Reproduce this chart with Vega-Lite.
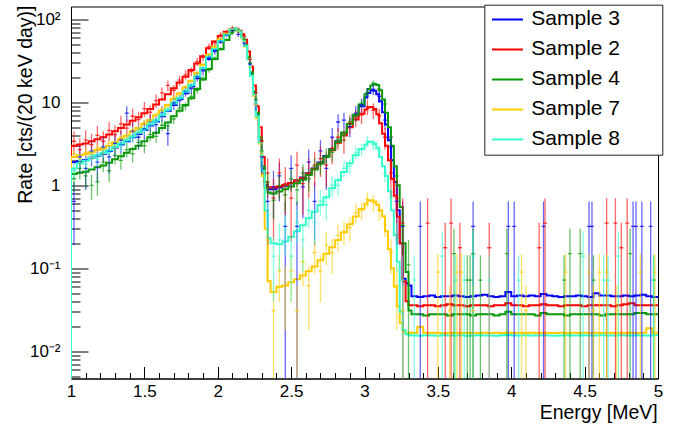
{
"$schema":"https://vega.github.io/schema/vega-lite/v6.json",
"width":587,"height":372,
"autosize":{"type":"none"},
"padding":{"left":71,"top":6.5,"right":25,"bottom":46.5},
"background":"white",
"config":{
 "font":"Liberation Sans",
 "view":{"stroke":"black","strokeWidth":1},
 "axis":{"grid":false,"domainColor":"black","tickColor":"black","labelColor":"black","titleColor":"black","labelFont":"Liberation Sans","titleFont":"Liberation Sans","titleFontWeight":"normal","labelFontSize":17,"titleFontSize":19.5,"tickWidth":1,"domainWidth":1}
},
"datasets":{
"model":[
{"e":1.00,"3":0.001,"2":0.001,"4":0.001,"7":0.001,"8":0.001},
{"e":1.00,"3":1.9,"2":3.0,"4":1.37,"7":2.2,"8":1.6},
{"e":1.04,"3":1.95,"2":3.1,"4":1.42,"7":2.3,"8":1.85},
{"e":1.08,"3":2.02,"2":3.2,"4":1.46,"7":2.37,"8":1.98},
{"e":1.12,"3":2.15,"2":3.4,"4":1.55,"7":2.5,"8":2.15},
{"e":1.16,"3":2.27,"2":3.6,"4":1.65,"7":2.67,"8":2.3},
{"e":1.20,"3":2.4,"2":3.8,"4":1.74,"7":2.8,"8":2.45},
{"e":1.24,"3":2.6,"2":4.1,"4":1.87,"7":3.0,"8":2.65},
{"e":1.28,"3":2.85,"2":4.5,"4":2.06,"7":3.3,"8":2.9},
{"e":1.32,"3":3.1,"2":4.9,"4":2.24,"7":3.6,"8":3.2},
{"e":1.36,"3":3.4,"2":5.4,"4":2.47,"7":4.0,"8":3.5},
{"e":1.40,"3":3.8,"2":6.0,"4":2.74,"7":4.45,"8":3.9},
{"e":1.44,"3":4.15,"2":6.6,"4":3.0,"7":4.9,"8":4.3},
{"e":1.48,"3":4.65,"2":7.4,"4":3.4,"7":5.5,"8":4.8},
{"e":1.52,"3":5.25,"2":8.3,"4":3.8,"7":6.15,"8":5.4},
{"e":1.56,"3":5.9,"2":9.4,"4":4.3,"7":7.0,"8":6.1},
{"e":1.60,"3":6.8,"2":10.8,"4":4.9,"7":8.0,"8":7.0},
{"e":1.64,"3":7.9,"2":12.5,"4":5.7,"7":9.3,"8":8.2},
{"e":1.68,"3":9.3,"2":14.8,"4":6.8,"7":11,"8":9.7},
{"e":1.72,"3":11,"2":17.4,"4":7.95,"7":12.9,"8":11.4},
{"e":1.76,"3":12.9,"2":20.4,"4":9.3,"7":15.1,"8":13.4},
{"e":1.80,"3":15.5,"2":24.5,"4":11.2,"7":18.2,"8":16.2},
{"e":1.84,"3":19.5,"2":29.5,"4":14.5,"7":22.4,"8":20.5},
{"e":1.88,"3":24.9,"2":36,"4":18.9,"7":28.6,"8":26},
{"e":1.92,"3":33.3,"2":45,"4":25.3,"7":37.4,"8":35},
{"e":1.96,"3":42.9,"2":54,"4":33.3,"7":47,"8":44.5},
{"e":2.00,"3":53.6,"2":63,"4":43.6,"7":57.5,"8":55},
{"e":2.04,"3":64.7,"2":71,"4":56.4,"7":68,"8":66},
{"e":2.08,"3":74,"2":76,"4":67.7,"7":76,"8":75},
{"e":2.10,"3":78,"2":78,"4":74,"7":78,"8":78},
{"e":2.12,"3":76,"2":77,"4":76,"7":76,"8":76},
{"e":2.14,"3":71,"2":73,"4":72,"7":70,"8":71},
{"e":2.16,"3":61,"2":66,"4":62,"7":60,"8":61},
{"e":2.18,"3":48,"2":57,"4":49,"7":47,"8":48},
{"e":2.20,"3":34,"2":41,"4":35,"7":33,"8":33},
{"e":2.22,"3":22,"2":27,"4":23,"7":21,"8":21},
{"e":2.24,"3":13,"2":16,"4":13.5,"7":12,"8":12.5},
{"e":2.26,"3":7,"2":9,"4":7.5,"7":6.5,"8":6.8},
{"e":2.28,"3":3.5,"2":5,"4":3.8,"7":3.2,"8":3.3},
{"e":2.30,"3":1.6,"2":2.2,"4":1.7,"7":1.3,"8":1.5},
{"e":2.32,"3":1.0,"2":1.1,"4":0.95,"7":0.3,"8":0.5},
{"e":2.34,"3":0.9,"2":0.95,"4":0.82,"7":0.07,"8":0.23},
{"e":2.36,"3":0.9,"2":0.94,"4":0.8,"7":0.052,"8":0.2},
{"e":2.40,"3":0.94,"2":0.97,"4":0.84,"7":0.06,"8":0.195},
{"e":2.44,"3":0.99,"2":1.01,"4":0.9,"7":0.062,"8":0.21},
{"e":2.48,"3":1.06,"2":1.07,"4":0.97,"7":0.068,"8":0.24},
{"e":2.52,"3":1.14,"2":1.14,"4":1.06,"7":0.074,"8":0.28},
{"e":2.56,"3":1.24,"2":1.23,"4":1.17,"7":0.082,"8":0.33},
{"e":2.60,"3":1.4,"2":1.38,"4":1.33,"7":0.092,"8":0.4},
{"e":2.64,"3":1.6,"2":1.58,"4":1.55,"7":0.105,"8":0.48},
{"e":2.68,"3":1.88,"2":1.85,"4":1.83,"7":0.125,"8":0.58},
{"e":2.72,"3":2.25,"2":2.2,"4":2.2,"7":0.15,"8":0.72},
{"e":2.76,"3":2.72,"2":2.65,"4":2.68,"7":0.18,"8":0.92},
{"e":2.80,"3":3.4,"2":3.25,"4":3.35,"7":0.22,"8":1.15},
{"e":2.84,"3":4.3,"2":4.0,"4":4.3,"7":0.27,"8":1.45},
{"e":2.88,"3":5.5,"2":5.0,"4":5.5,"7":0.34,"8":1.85},
{"e":2.92,"3":7.0,"2":6.2,"4":7.1,"7":0.42,"8":2.3},
{"e":2.96,"3":9.0,"2":7.3,"4":9.4,"7":0.52,"8":2.75},
{"e":3.00,"3":11.5,"2":8.2,"4":12.5,"7":0.6,"8":3.1},
{"e":3.02,"3":13,"2":8.7,"4":14.5,"7":0.65,"8":3.3},
{"e":3.04,"3":14,"2":8.8,"4":16,"7":0.66,"8":3.35},
{"e":3.06,"3":13.8,"2":8.3,"4":16.7,"7":0.64,"8":3.2},
{"e":3.08,"3":12.5,"2":7.2,"4":16.2,"7":0.58,"8":2.8},
{"e":3.10,"3":10.3,"2":5.6,"4":14,"7":0.5,"8":2.2},
{"e":3.12,"3":7.6,"2":4.2,"4":10.8,"7":0.42,"8":1.7},
{"e":3.14,"3":5.4,"2":3.0,"4":7.5,"7":0.28,"8":1.3},
{"e":3.16,"3":3.5,"2":2.0,"4":5.0,"7":0.17,"8":0.85},
{"e":3.18,"3":2.0,"2":1.2,"4":3.0,"7":0.1,"8":0.5},
{"e":3.20,"3":1.1,"2":0.75,"4":1.7,"7":0.06,"8":0.25},
{"e":3.22,"3":0.5,"2":0.42,"4":1.0,"7":0.035,"8":0.12},
{"e":3.24,"3":0.2,"2":0.2,"4":0.55,"7":0.022,"8":0.03},
{"e":3.26,"3":0.075,"2":0.07,"4":0.2,"7":0.017,"8":0.018},
{"e":3.28,"3":0.066,"2":0.04,"4":0.09,"7":0.0165,"8":0.016},
{"e":3.30,"3":0.062,"2":0.036,"4":0.031,"7":0.0168,"8":0.0156},
{"e":3.32,"3":0.046,"2":0.036,"4":0.028,"7":0.0166,"8":0.0155},
{"e":3.36,"3":0.045,"2":0.035,"4":0.028,"7":0.0198,"8":0.0154},
{"e":3.40,"3":0.046,"2":0.036,"4":0.027,"7":0.0167,"8":0.0156},
{"e":3.44,"3":0.047,"2":0.036,"4":0.028,"7":0.0166,"8":0.0155},
{"e":3.48,"3":0.045,"2":0.035,"4":0.028,"7":0.0167,"8":0.0154},
{"e":3.52,"3":0.046,"2":0.036,"4":0.028,"7":0.0165,"8":0.0156},
{"e":3.56,"3":0.046,"2":0.037,"4":0.027,"7":0.0166,"8":0.0155},
{"e":3.60,"3":0.047,"2":0.036,"4":0.028,"7":0.0167,"8":0.0155},
{"e":3.64,"3":0.046,"2":0.036,"4":0.028,"7":0.0166,"8":0.0156},
{"e":3.68,"3":0.045,"2":0.035,"4":0.028,"7":0.0167,"8":0.0154},
{"e":3.72,"3":0.046,"2":0.036,"4":0.027,"7":0.0166,"8":0.0155},
{"e":3.76,"3":0.047,"2":0.036,"4":0.028,"7":0.0166,"8":0.0156},
{"e":3.80,"3":0.048,"2":0.036,"4":0.028,"7":0.0167,"8":0.0155},
{"e":3.84,"3":0.046,"2":0.035,"4":0.028,"7":0.0166,"8":0.0155},
{"e":3.88,"3":0.045,"2":0.036,"4":0.027,"7":0.0167,"8":0.0154},
{"e":3.92,"3":0.046,"2":0.036,"4":0.028,"7":0.0166,"8":0.0156},
{"e":3.96,"3":0.052,"2":0.038,"4":0.030,"7":0.0168,"8":0.0157},
{"e":4.00,"3":0.046,"2":0.036,"4":0.028,"7":0.0166,"8":0.0155},
{"e":4.04,"3":0.047,"2":0.036,"4":0.028,"7":0.0167,"8":0.0155},
{"e":4.08,"3":0.046,"2":0.035,"4":0.028,"7":0.0166,"8":0.0156},
{"e":4.12,"3":0.047,"2":0.036,"4":0.028,"7":0.0167,"8":0.0155},
{"e":4.16,"3":0.046,"2":0.036,"4":0.027,"7":0.0166,"8":0.0155},
{"e":4.20,"3":0.049,"2":0.037,"4":0.029,"7":0.0167,"8":0.0156},
{"e":4.24,"3":0.047,"2":0.036,"4":0.028,"7":0.0166,"8":0.0155},
{"e":4.28,"3":0.046,"2":0.036,"4":0.028,"7":0.0166,"8":0.0154},
{"e":4.32,"3":0.045,"2":0.035,"4":0.028,"7":0.0167,"8":0.0155},
{"e":4.36,"3":0.046,"2":0.036,"4":0.027,"7":0.0166,"8":0.0156},
{"e":4.40,"3":0.046,"2":0.036,"4":0.028,"7":0.0167,"8":0.0155},
{"e":4.44,"3":0.047,"2":0.036,"4":0.028,"7":0.0166,"8":0.0155},
{"e":4.48,"3":0.046,"2":0.035,"4":0.028,"7":0.0167,"8":0.0156},
{"e":4.52,"3":0.045,"2":0.036,"4":0.028,"7":0.0166,"8":0.0155},
{"e":4.56,"3":0.050,"2":0.036,"4":0.028,"7":0.0167,"8":0.0155},
{"e":4.60,"3":0.047,"2":0.036,"4":0.027,"7":0.0166,"8":0.0156},
{"e":4.64,"3":0.047,"2":0.036,"4":0.028,"7":0.0167,"8":0.0155},
{"e":4.68,"3":0.046,"2":0.035,"4":0.028,"7":0.0166,"8":0.0155},
{"e":4.72,"3":0.046,"2":0.036,"4":0.028,"7":0.0167,"8":0.0156},
{"e":4.76,"3":0.047,"2":0.037,"4":0.028,"7":0.0166,"8":0.0155},
{"e":4.80,"3":0.046,"2":0.038,"4":0.028,"7":0.0167,"8":0.0155},
{"e":4.84,"3":0.047,"2":0.036,"4":0.029,"7":0.0166,"8":0.0156},
{"e":4.88,"3":0.048,"2":0.036,"4":0.029,"7":0.0167,"8":0.0155},
{"e":4.92,"3":0.046,"2":0.036,"4":0.028,"7":0.019,"8":0.0155},
{"e":4.96,"3":0.045,"2":0.036,"4":0.028,"7":0.0167,"8":0.0156},
{"e":5.00,"3":0.045,"2":0.036,"4":0.028,"7":0.0167,"8":0.0156}
],
"pts":[
{"s":"3","e":1.02,"v":0.64,"l":0.19,"h":1.1},
{"s":"3","e":1.06,"v":2.2,"l":1.37,"h":3.0},
{"s":"3","e":1.10,"v":1.6,"l":0.88,"h":2.3},
{"s":"3","e":1.14,"v":2.6,"l":1.7,"h":3.5},
{"s":"3","e":1.18,"v":1.9,"l":1.1,"h":2.7},
{"s":"3","e":1.22,"v":2.9,"l":1.9,"h":3.9},
{"s":"3","e":1.26,"v":2.2,"l":1.37,"h":3.0},
{"s":"3","e":1.30,"v":3.2,"l":2.2,"h":4.2},
{"s":"3","e":1.34,"v":3.5,"l":2.45,"h":4.55},
{"s":"3","e":1.38,"v":7.4,"l":5.8,"h":9.0},
{"s":"3","e":1.42,"v":4.5,"l":3.3,"h":5.7},
{"s":"3","e":1.46,"v":3.8,"l":2.7,"h":4.9},
{"s":"3","e":1.50,"v":4.8,"l":3.55,"h":6.05},
{"s":"3","e":1.54,"v":5.8,"l":4.4,"h":7.2},
{"s":"3","e":1.58,"v":5.4,"l":4.1,"h":6.7},
{"s":"3","e":1.62,"v":7.4,"l":5.8,"h":9.0},
{"s":"3","e":1.66,"v":4.2,"l":3.0,"h":5.4},
{"s":"3","e":1.70,"v":9.9,"l":8.1,"h":11.7},
{"s":"3","e":1.74,"v":10.5,"l":8.7,"h":12.3},
{"s":"3","e":1.78,"v":13.8,"l":11.7,"h":15.9},
{"s":"3","e":1.82,"v":14.7,"l":12.5,"h":16.9},
{"s":"3","e":1.86,"v":20.5,"l":17.9,"h":23.1},
{"s":"3","e":1.90,"v":24,"l":21.2,"h":26.8},
{"s":"3","e":1.94,"v":35,"l":31.6,"h":38.4},
{"s":"3","e":1.98,"v":41,"l":37.4,"h":44.6},
{"s":"3","e":2.02,"v":55,"l":50.8,"h":59.2},
{"s":"3","e":2.06,"v":66,"l":61.4,"h":70.6},
{"s":"3","e":2.10,"v":74,"l":69,"h":79},
{"s":"3","e":2.14,"v":66,"l":61.4,"h":70.6},
{"s":"3","e":2.18,"v":52,"l":48,"h":56},
{"s":"3","e":2.22,"v":29,"l":26,"h":32},
{"s":"3","e":2.26,"v":9.6,"l":7.9,"h":11.3},
{"s":"3","e":2.30,"v":2.2,"l":1.37,"h":3.0},
{"s":"3","e":2.34,"v":0.64,"l":0.19,"h":1.1},
{"s":"3","e":2.38,"v":0.96,"l":0.4,"h":1.5},
{"s":"3","e":2.42,"v":1.3,"l":0.64,"h":1.9},
{"s":"3","e":2.46,"v":0.32,"l":0.001,"h":0.64},
{"s":"3","e":2.50,"v":1.6,"l":0.88,"h":2.3},
{"s":"3","e":2.54,"v":0.32,"l":0.001,"h":0.64},
{"s":"3","e":2.58,"v":0.96,"l":0.4,"h":1.5},
{"s":"3","e":2.62,"v":1.9,"l":1.1,"h":2.7},
{"s":"3","e":2.66,"v":0.64,"l":0.19,"h":1.1},
{"s":"3","e":2.70,"v":2.6,"l":1.7,"h":3.5},
{"s":"3","e":2.74,"v":1.6,"l":0.88,"h":2.3},
{"s":"3","e":2.78,"v":3.8,"l":2.7,"h":4.9},
{"s":"3","e":2.82,"v":5.8,"l":4.4,"h":7.2},
{"s":"3","e":2.86,"v":6.1,"l":4.7,"h":7.5},
{"s":"3","e":2.90,"v":5.1,"l":3.8,"h":6.4},
{"s":"3","e":2.94,"v":7.4,"l":5.8,"h":9.0},
{"s":"3","e":2.98,"v":9.3,"l":7.5,"h":11.1},
{"s":"3","e":3.02,"v":12.8,"l":10.8,"h":14.8},
{"s":"3","e":3.06,"v":14.4,"l":12.2,"h":16.6},
{"s":"3","e":3.10,"v":11.8,"l":9.9,"h":13.7},
{"s":"3","e":3.14,"v":6.1,"l":4.7,"h":7.5},
{"s":"3","e":3.18,"v":2.9,"l":1.9,"h":3.9},
{"s":"3","e":3.22,"v":0.64,"l":0.19,"h":1.1},
{"s":"3","e":3.26,"v":0.32,"l":0.001,"h":0.64},
{"s":"3","e":3.38,"v":0.32,"l":0.001,"h":0.64},
{"s":"3","e":3.74,"v":0.32,"l":0.001,"h":0.64},
{"s":"3","e":3.98,"v":0.32,"l":0.001,"h":0.64},
{"s":"3","e":4.02,"v":0.32,"l":0.001,"h":0.64},
{"s":"3","e":4.22,"v":0.32,"l":0.001,"h":0.64},
{"s":"3","e":4.53,"v":0.32,"l":0.001,"h":0.64},
{"s":"3","e":4.55,"v":0.32,"l":0.001,"h":0.64},
{"s":"3","e":4.83,"v":0.32,"l":0.001,"h":0.64},
{"s":"3","e":4.85,"v":0.32,"l":0.001,"h":0.64},
{"s":"3","e":4.89,"v":0.32,"l":0.001,"h":0.64},
{"s":"3","e":4.95,"v":0.32,"l":0.001,"h":0.64},
{"s":"2","e":1.02,"v":3.4,"l":2.3,"h":4.5},
{"s":"2","e":1.06,"v":2.7,"l":1.7,"h":3.7},
{"s":"2","e":1.10,"v":3.5,"l":2.4,"h":4.6},
{"s":"2","e":1.14,"v":3.1,"l":2.0,"h":4.2},
{"s":"2","e":1.18,"v":4.0,"l":2.8,"h":5.2},
{"s":"2","e":1.22,"v":3.4,"l":2.3,"h":4.5},
{"s":"2","e":1.26,"v":4.6,"l":3.4,"h":5.8},
{"s":"2","e":1.30,"v":4.1,"l":2.9,"h":5.3},
{"s":"2","e":1.34,"v":5.5,"l":4.1,"h":6.9},
{"s":"2","e":1.38,"v":4.9,"l":3.6,"h":6.2},
{"s":"2","e":1.42,"v":6.8,"l":5.2,"h":8.4},
{"s":"2","e":1.46,"v":6.2,"l":4.7,"h":7.7},
{"s":"2","e":1.50,"v":8.4,"l":6.7,"h":10.1},
{"s":"2","e":1.54,"v":7.6,"l":6.0,"h":9.2},
{"s":"2","e":1.58,"v":10.5,"l":8.6,"h":12.4},
{"s":"2","e":1.62,"v":13.0,"l":10.9,"h":15.1},
{"s":"2","e":1.66,"v":16.0,"l":13.6,"h":18.4},
{"s":"2","e":1.70,"v":14.0,"l":11.8,"h":16.2},
{"s":"2","e":1.74,"v":18.5,"l":15.9,"h":21.1},
{"s":"2","e":1.78,"v":21.5,"l":18.7,"h":24.3},
{"s":"2","e":1.82,"v":23.5,"l":20.7,"h":26.3},
{"s":"2","e":1.86,"v":31,"l":27.6,"h":34.4},
{"s":"2","e":1.90,"v":35,"l":31.5,"h":38.5},
{"s":"2","e":1.94,"v":47,"l":42.8,"h":51.2},
{"s":"2","e":1.98,"v":52,"l":47.8,"h":56.2},
{"s":"2","e":2.02,"v":65,"l":60,"h":70},
{"s":"2","e":2.06,"v":70,"l":65,"h":75},
{"s":"2","e":2.10,"v":78,"l":73,"h":83},
{"s":"2","e":2.14,"v":73,"l":68,"h":78},
{"s":"2","e":2.18,"v":63,"l":58,"h":68},
{"s":"2","e":2.22,"v":33,"l":29.7,"h":36.3},
{"s":"2","e":2.26,"v":13,"l":10.9,"h":15.1},
{"s":"2","e":2.30,"v":3.4,"l":2.3,"h":4.5},
{"s":"2","e":2.34,"v":1.4,"l":0.7,"h":2.1},
{"s":"2","e":2.38,"v":0.7,"l":0.21,"h":1.2},
{"s":"2","e":2.42,"v":1.4,"l":0.7,"h":2.1},
{"s":"2","e":2.46,"v":1.05,"l":0.44,"h":1.66},
{"s":"2","e":2.50,"v":0.7,"l":0.21,"h":1.2},
{"s":"2","e":2.54,"v":1.75,"l":0.96,"h":2.54},
{"s":"2","e":2.58,"v":1.05,"l":0.44,"h":1.66},
{"s":"2","e":2.62,"v":1.4,"l":0.7,"h":2.1},
{"s":"2","e":2.66,"v":1.75,"l":0.96,"h":2.54},
{"s":"2","e":2.70,"v":2.1,"l":1.26,"h":2.94},
{"s":"2","e":2.74,"v":1.75,"l":0.96,"h":2.54},
{"s":"2","e":2.78,"v":2.8,"l":1.8,"h":3.8},
{"s":"2","e":2.82,"v":3.8,"l":2.7,"h":4.9},
{"s":"2","e":2.86,"v":3.5,"l":2.4,"h":4.6},
{"s":"2","e":2.90,"v":5.6,"l":4.2,"h":7.0},
{"s":"2","e":2.94,"v":6.6,"l":5.1,"h":8.1},
{"s":"2","e":2.98,"v":7.0,"l":5.5,"h":8.5},
{"s":"2","e":3.02,"v":8.8,"l":7.0,"h":10.6},
{"s":"2","e":3.06,"v":8.0,"l":6.3,"h":9.7},
{"s":"2","e":3.10,"v":6.9,"l":5.4,"h":8.4},
{"s":"2","e":3.14,"v":3.8,"l":2.7,"h":4.9},
{"s":"2","e":3.18,"v":1.4,"l":0.7,"h":2.1},
{"s":"2","e":3.22,"v":0.7,"l":0.21,"h":1.2},
{"s":"2","e":3.26,"v":0.35,"l":0.001,"h":0.7},
{"s":"2","e":3.43,"v":0.35,"l":0.001,"h":0.7},
{"s":"2","e":3.55,"v":0.177,"l":0.001,"h":0.354},
{"s":"2","e":3.59,"v":0.35,"l":0.001,"h":0.7},
{"s":"2","e":3.65,"v":0.177,"l":0.001,"h":0.354},
{"s":"2","e":3.85,"v":0.177,"l":0.001,"h":0.354},
{"s":"2","e":4.19,"v":0.177,"l":0.001,"h":0.354},
{"s":"2","e":4.23,"v":0.35,"l":0.001,"h":0.7},
{"s":"2","e":4.65,"v":0.35,"l":0.001,"h":0.7},
{"s":"2","e":4.71,"v":0.35,"l":0.001,"h":0.7},
{"s":"2","e":4.75,"v":0.177,"l":0.001,"h":0.354},
{"s":"2","e":4.79,"v":0.35,"l":0.001,"h":0.7},
{"s":"4","e":1.02,"v":1.2,"l":0.84,"h":1.56},
{"s":"4","e":1.06,"v":1.6,"l":1.18,"h":2.02},
{"s":"4","e":1.10,"v":1.3,"l":0.92,"h":1.68},
{"s":"4","e":1.14,"v":1.0,"l":0.67,"h":1.33},
{"s":"4","e":1.18,"v":1.1,"l":0.75,"h":1.45},
{"s":"4","e":1.22,"v":1.9,"l":1.44,"h":2.36},
{"s":"4","e":1.26,"v":1.5,"l":1.1,"h":1.9},
{"s":"4","e":1.30,"v":2.3,"l":1.8,"h":2.8},
{"s":"4","e":1.34,"v":2.0,"l":1.54,"h":2.46},
{"s":"4","e":1.38,"v":2.7,"l":2.16,"h":3.24},
{"s":"4","e":1.42,"v":2.4,"l":1.88,"h":2.92},
{"s":"4","e":1.46,"v":3.3,"l":2.7,"h":3.9},
{"s":"4","e":1.50,"v":3.0,"l":2.43,"h":3.57},
{"s":"4","e":1.54,"v":4.1,"l":3.4,"h":4.8},
{"s":"4","e":1.58,"v":3.9,"l":3.25,"h":4.55},
{"s":"4","e":1.62,"v":5.3,"l":4.5,"h":6.1},
{"s":"4","e":1.66,"v":5.2,"l":4.45,"h":5.95},
{"s":"4","e":1.70,"v":6.3,"l":5.5,"h":7.1},
{"s":"4","e":1.74,"v":8.5,"l":7.5,"h":9.5},
{"s":"4","e":1.78,"v":9.0,"l":8.0,"h":10.0},
{"s":"4","e":1.82,"v":11.8,"l":10.6,"h":13.0},
{"s":"4","e":1.86,"v":14,"l":12.7,"h":15.3},
{"s":"4","e":1.90,"v":19.5,"l":18,"h":21},
{"s":"4","e":1.94,"v":24.5,"l":22.8,"h":26.2},
{"s":"4","e":1.98,"v":34,"l":32,"h":36},
{"s":"4","e":2.02,"v":44,"l":41.8,"h":46.2},
{"s":"4","e":2.06,"v":57,"l":54.5,"h":59.5},
{"s":"4","e":2.10,"v":70,"l":67.2,"h":72.8},
{"s":"4","e":2.14,"v":73,"l":70,"h":76},
{"s":"4","e":2.18,"v":57,"l":54.5,"h":59.5},
{"s":"4","e":2.22,"v":30,"l":28.2,"h":31.8},
{"s":"4","e":2.26,"v":10.8,"l":9.7,"h":11.9},
{"s":"4","e":2.30,"v":2.6,"l":2.1,"h":3.1},
{"s":"4","e":2.34,"v":1.1,"l":0.75,"h":1.45},
{"s":"4","e":2.38,"v":0.66,"l":0.39,"h":0.93},
{"s":"4","e":2.42,"v":0.99,"l":0.66,"h":1.32},
{"s":"4","e":2.46,"v":0.77,"l":0.48,"h":1.06},
{"s":"4","e":2.50,"v":1.2,"l":0.84,"h":1.56},
{"s":"4","e":2.54,"v":0.88,"l":0.57,"h":1.19},
{"s":"4","e":2.58,"v":1.4,"l":1.0,"h":1.8},
{"s":"4","e":2.62,"v":1.2,"l":0.84,"h":1.56},
{"s":"4","e":2.66,"v":1.7,"l":1.26,"h":2.14},
{"s":"4","e":2.70,"v":1.8,"l":1.34,"h":2.26},
{"s":"4","e":2.74,"v":2.3,"l":1.8,"h":2.8},
{"s":"4","e":2.78,"v":2.5,"l":1.95,"h":3.05},
{"s":"4","e":2.82,"v":3.6,"l":2.95,"h":4.25},
{"s":"4","e":2.86,"v":4.0,"l":3.3,"h":4.7},
{"s":"4","e":2.90,"v":5.8,"l":5.0,"h":6.6},
{"s":"4","e":2.94,"v":6.8,"l":5.9,"h":7.7},
{"s":"4","e":2.98,"v":9.8,"l":8.7,"h":10.9},
{"s":"4","e":3.02,"v":13,"l":11.8,"h":14.2},
{"s":"4","e":3.06,"v":17,"l":15.6,"h":18.4},
{"s":"4","e":3.10,"v":14.5,"l":13.2,"h":15.8},
{"s":"4","e":3.14,"v":9.5,"l":8.5,"h":10.5},
{"s":"4","e":3.18,"v":3.8,"l":3.15,"h":4.45},
{"s":"4","e":3.22,"v":1.3,"l":0.92,"h":1.68},
{"s":"4","e":3.26,"v":0.33,"l":0.14,"h":0.52},
{"s":"4","e":3.30,"v":0.11,"l":0.001,"h":0.22},
{"s":"4","e":3.61,"v":0.15,"l":0.001,"h":0.3},
{"s":"4","e":3.70,"v":0.072,"l":0.001,"h":0.144},
{"s":"4","e":3.72,"v":0.072,"l":0.001,"h":0.144},
{"s":"4","e":3.74,"v":0.15,"l":0.001,"h":0.3},
{"s":"4","e":3.79,"v":0.072,"l":0.001,"h":0.144},
{"s":"4","e":3.97,"v":0.15,"l":0.001,"h":0.3},
{"s":"4","e":4.36,"v":0.072,"l":0.001,"h":0.144},
{"s":"4","e":4.40,"v":0.15,"l":0.001,"h":0.3},
{"s":"4","e":4.47,"v":0.15,"l":0.001,"h":0.3},
{"s":"4","e":4.56,"v":0.072,"l":0.001,"h":0.144},
{"s":"4","e":4.81,"v":0.15,"l":0.001,"h":0.3},
{"s":"4","e":4.97,"v":0.072,"l":0.001,"h":0.144},
{"s":"7","e":1.02,"v":2.4,"l":2.12,"h":2.68},
{"s":"7","e":1.06,"v":2.1,"l":1.85,"h":2.35},
{"s":"7","e":1.10,"v":2.5,"l":2.2,"h":2.8},
{"s":"7","e":1.14,"v":2.4,"l":2.12,"h":2.68},
{"s":"7","e":1.18,"v":2.8,"l":2.5,"h":3.1},
{"s":"7","e":1.22,"v":2.7,"l":2.42,"h":2.98},
{"s":"7","e":1.26,"v":3.2,"l":2.88,"h":3.52},
{"s":"7","e":1.30,"v":3.1,"l":2.8,"h":3.4},
{"s":"7","e":1.34,"v":3.8,"l":3.46,"h":4.14},
{"s":"7","e":1.38,"v":3.9,"l":3.55,"h":4.25},
{"s":"7","e":1.42,"v":4.7,"l":4.3,"h":5.1},
{"s":"7","e":1.46,"v":4.7,"l":4.3,"h":5.1},
{"s":"7","e":1.50,"v":5.8,"l":5.37,"h":6.23},
{"s":"7","e":1.54,"v":6.0,"l":5.55,"h":6.45},
{"s":"7","e":1.58,"v":7.2,"l":6.7,"h":7.7},
{"s":"7","e":1.62,"v":8.3,"l":7.8,"h":8.8},
{"s":"7","e":1.66,"v":9.1,"l":8.6,"h":9.6},
{"s":"7","e":1.70,"v":11.5,"l":10.9,"h":12.1},
{"s":"7","e":1.74,"v":12.5,"l":11.9,"h":13.1},
{"s":"7","e":1.78,"v":15.5,"l":14.8,"h":16.2},
{"s":"7","e":1.82,"v":18,"l":17.2,"h":18.8},
{"s":"7","e":1.86,"v":23,"l":22.1,"h":23.9},
{"s":"7","e":1.90,"v":28,"l":27.1,"h":28.9},
{"s":"7","e":1.94,"v":38,"l":36.9,"h":39.1},
{"s":"7","e":1.98,"v":46,"l":44.7,"h":47.3},
{"s":"7","e":2.02,"v":58,"l":56.7,"h":59.3},
{"s":"7","e":2.06,"v":68,"l":66.7,"h":69.3},
{"s":"7","e":2.10,"v":76,"l":74.6,"h":77.4},
{"s":"7","e":2.14,"v":72,"l":70.6,"h":73.4},
{"s":"7","e":2.18,"v":54,"l":52.8,"h":55.2},
{"s":"7","e":2.22,"v":27,"l":26.1,"h":27.9},
{"s":"7","e":2.26,"v":9.5,"l":8.96,"h":10.04},
{"s":"7","e":2.30,"v":2.4,"l":2.14,"h":2.66},
{"s":"7","e":2.34,"v":0.22,"l":0.14,"h":0.3},
{"s":"7","e":2.38,"v":0.031,"l":0.001,"h":0.062},
{"s":"7","e":2.42,"v":0.093,"l":0.039,"h":0.147},
{"s":"7","e":2.46,"v":0.062,"l":0.018,"h":0.106},
{"s":"7","e":2.50,"v":0.093,"l":0.039,"h":0.147},
{"s":"7","e":2.54,"v":0.031,"l":0.001,"h":0.062},
{"s":"7","e":2.58,"v":0.12,"l":0.06,"h":0.18},
{"s":"7","e":2.62,"v":0.062,"l":0.018,"h":0.106},
{"s":"7","e":2.66,"v":0.155,"l":0.085,"h":0.225},
{"s":"7","e":2.70,"v":0.093,"l":0.039,"h":0.147},
{"s":"7","e":2.74,"v":0.19,"l":0.11,"h":0.27},
{"s":"7","e":2.78,"v":0.155,"l":0.085,"h":0.225},
{"s":"7","e":2.82,"v":0.25,"l":0.16,"h":0.34},
{"s":"7","e":2.86,"v":0.28,"l":0.19,"h":0.37},
{"s":"7","e":2.90,"v":0.31,"l":0.21,"h":0.41},
{"s":"7","e":2.94,"v":0.47,"l":0.35,"h":0.59},
{"s":"7","e":2.98,"v":0.5,"l":0.375,"h":0.625},
{"s":"7","e":3.02,"v":0.68,"l":0.54,"h":0.82},
{"s":"7","e":3.06,"v":0.62,"l":0.48,"h":0.76},
{"s":"7","e":3.10,"v":0.5,"l":0.375,"h":0.625},
{"s":"7","e":3.14,"v":0.34,"l":0.24,"h":0.44},
{"s":"7","e":3.18,"v":0.155,"l":0.085,"h":0.225},
{"s":"7","e":3.22,"v":0.062,"l":0.018,"h":0.106},
{"s":"7","e":3.26,"v":0.031,"l":0.001,"h":0.062},
{"s":"7","e":3.50,"v":0.09,"l":0.001,"h":0.15},
{"s":"7","e":3.58,"v":0.031,"l":0.001,"h":0.062},
{"s":"7","e":3.63,"v":0.09,"l":0.001,"h":0.15},
{"s":"7","e":3.66,"v":0.09,"l":0.001,"h":0.15},
{"s":"7","e":3.74,"v":0.031,"l":0.001,"h":0.062},
{"s":"7","e":4.07,"v":0.09,"l":0.001,"h":0.15},
{"s":"7","e":4.10,"v":0.031,"l":0.001,"h":0.062},
{"s":"7","e":4.37,"v":0.09,"l":0.001,"h":0.15},
{"s":"7","e":4.53,"v":0.09,"l":0.001,"h":0.15},
{"s":"7","e":4.56,"v":0.031,"l":0.001,"h":0.062},
{"s":"7","e":4.60,"v":0.09,"l":0.001,"h":0.15},
{"s":"7","e":4.65,"v":0.09,"l":0.001,"h":0.15},
{"s":"7","e":4.72,"v":0.031,"l":0.001,"h":0.062},
{"s":"7","e":4.88,"v":0.09,"l":0.001,"h":0.15},
{"s":"7","e":4.98,"v":0.09,"l":0.001,"h":0.15},
{"s":"8","e":1.02,"v":1.5,"l":1.17,"h":1.83},
{"s":"8","e":1.06,"v":2.0,"l":1.62,"h":2.38},
{"s":"8","e":1.10,"v":1.8,"l":1.46,"h":2.14},
{"s":"8","e":1.14,"v":2.3,"l":1.89,"h":2.71},
{"s":"8","e":1.18,"v":2.1,"l":1.72,"h":2.48},
{"s":"8","e":1.22,"v":2.6,"l":2.17,"h":3.03},
{"s":"8","e":1.26,"v":2.5,"l":2.09,"h":2.91},
{"s":"8","e":1.30,"v":3.1,"l":2.64,"h":3.56},
{"s":"8","e":1.34,"v":3.0,"l":2.55,"h":3.45},
{"s":"8","e":1.38,"v":3.6,"l":3.1,"h":4.1},
{"s":"8","e":1.42,"v":3.8,"l":3.27,"h":4.33},
{"s":"8","e":1.46,"v":4.6,"l":4.02,"h":5.18},
{"s":"8","e":1.50,"v":4.6,"l":4.02,"h":5.18},
{"s":"8","e":1.54,"v":5.7,"l":5.06,"h":6.34},
{"s":"8","e":1.58,"v":5.8,"l":5.15,"h":6.45},
{"s":"8","e":1.62,"v":7.3,"l":6.57,"h":8.03},
{"s":"8","e":1.66,"v":8.0,"l":7.2,"h":8.8},
{"s":"8","e":1.70,"v":10.2,"l":9.35,"h":11.05},
{"s":"8","e":1.74,"v":11,"l":10.1,"h":11.9},
{"s":"8","e":1.78,"v":14,"l":13,"h":15},
{"s":"8","e":1.82,"v":15.8,"l":14.7,"h":16.9},
{"s":"8","e":1.86,"v":21,"l":19.8,"h":22.2},
{"s":"8","e":1.90,"v":25.5,"l":24.0,"h":27.0},
{"s":"8","e":1.94,"v":36,"l":34.4,"h":37.6},
{"s":"8","e":1.98,"v":44,"l":42.2,"h":45.8},
{"s":"8","e":2.02,"v":56,"l":54,"h":58},
{"s":"8","e":2.06,"v":65,"l":62.7,"h":67.3},
{"s":"8","e":2.10,"v":77,"l":74.7,"h":79.3},
{"s":"8","e":2.14,"v":73,"l":70.8,"h":75.2},
{"s":"8","e":2.18,"v":55,"l":53,"h":57},
{"s":"8","e":2.22,"v":27,"l":25.6,"h":28.4},
{"s":"8","e":2.26,"v":9.8,"l":9.0,"h":10.6},
{"s":"8","e":2.30,"v":2.3,"l":1.9,"h":2.7},
{"s":"8","e":2.34,"v":0.43,"l":0.25,"h":0.61},
{"s":"8","e":2.38,"v":0.14,"l":0.04,"h":0.24},
{"s":"8","e":2.42,"v":0.22,"l":0.09,"h":0.35},
{"s":"8","e":2.46,"v":0.29,"l":0.145,"h":0.435},
{"s":"8","e":2.50,"v":0.14,"l":0.04,"h":0.24},
{"s":"8","e":2.54,"v":0.36,"l":0.2,"h":0.52},
{"s":"8","e":2.58,"v":0.22,"l":0.09,"h":0.35},
{"s":"8","e":2.62,"v":0.5,"l":0.31,"h":0.69},
{"s":"8","e":2.66,"v":0.36,"l":0.2,"h":0.52},
{"s":"8","e":2.70,"v":0.65,"l":0.43,"h":0.87},
{"s":"8","e":2.74,"v":0.58,"l":0.38,"h":0.78},
{"s":"8","e":2.78,"v":1.0,"l":0.73,"h":1.27},
{"s":"8","e":2.82,"v":1.0,"l":0.73,"h":1.27},
{"s":"8","e":2.86,"v":1.6,"l":1.26,"h":1.94},
{"s":"8","e":2.90,"v":1.7,"l":1.35,"h":2.05},
{"s":"8","e":2.94,"v":2.5,"l":2.08,"h":2.92},
{"s":"8","e":2.98,"v":2.7,"l":2.25,"h":3.15},
{"s":"8","e":3.02,"v":3.4,"l":2.9,"h":3.9},
{"s":"8","e":3.06,"v":3.1,"l":2.65,"h":3.55},
{"s":"8","e":3.10,"v":2.6,"l":2.18,"h":3.02},
{"s":"8","e":3.14,"v":1.4,"l":1.09,"h":1.71},
{"s":"8","e":3.18,"v":0.72,"l":0.49,"h":0.95},
{"s":"8","e":3.22,"v":0.22,"l":0.09,"h":0.35},
{"s":"8","e":3.26,"v":0.072,"l":0.001,"h":0.144},
{"s":"8","e":3.34,"v":0.072,"l":0.001,"h":0.144},
{"s":"8","e":3.53,"v":0.14,"l":0.001,"h":0.28},
{"s":"8","e":3.62,"v":0.072,"l":0.001,"h":0.144},
{"s":"8","e":3.68,"v":0.072,"l":0.001,"h":0.144},
{"s":"8","e":3.74,"v":0.14,"l":0.001,"h":0.28},
{"s":"8","e":3.85,"v":0.072,"l":0.001,"h":0.144},
{"s":"8","e":4.05,"v":0.072,"l":0.001,"h":0.144},
{"s":"8","e":4.49,"v":0.14,"l":0.001,"h":0.28},
{"s":"8","e":4.63,"v":0.072,"l":0.001,"h":0.144},
{"s":"8","e":4.66,"v":0.072,"l":0.001,"h":0.144},
{"s":"8","e":4.73,"v":0.14,"l":0.001,"h":0.28},
{"s":"8","e":4.97,"v":0.072,"l":0.001,"h":0.144}
]
},
"data":{"name":"pts"},
"resolve":{"axis":{"x":"independent","y":"independent"}},
"layer":[
{
 "data":{"name":"model"},
 "transform":[{"fold":["3","2","4","7","8"],"as":["s","m"]}],
 "mark":{"type":"line","interpolate":"step-after","strokeWidth":2,"clip":true},
 "encoding":{
  "x":{"field":"e","type":"quantitative","scale":{"domain":[1,5],"nice":false,"zero":false},
   "axis":{"orient":"bottom","values":[1,1.5,2,2.5,3,3.5,4,4.5,5],"format":"~g","tickSize":-12,"labelPadding":17,"labelFlush":false,"labelOverlap":false,"title":"Energy [MeV]","titleAlign":"right","titleAnchor":"end","titleX":586.3,"titleY":39.5,"titleBaseline":"alphabetic"}},
  "y":{"field":"m","type":"quantitative","scale":{"type":"log","domain":[0.0047,143],"nice":false},
   "axis":{"orient":"left","values":[0.01,0.1,1,10,100],"tickSize":-17,"labelPadding":28,"labelFlush":false,"labelOverlap":false,"labelBaseline":"middle","labelExpr":"datum.value >= 99 ? '10²' : datum.value >= 9 ? '10' : datum.value >= 0.9 ? '1' : datum.value >= 0.09 ? '10⁻¹' : '10⁻²'","title":"Rate [cts/(20 keV day)]","titleAngle":-90,"titleAlign":"right","titleBaseline":"alphabetic","titleX":-40,"titleY":-1.5}},
  "color":{"field":"s","type":"nominal","scale":{"domain":["3","2","4","7","8"],"range":["#0000ff","#ff0000","#0a990a","#ffcc00","#33ffcc"]},
   "legend":{"orient":"none","legendX":413.3,"legendY":-1.8,"title":null,"symbolType":"stroke","symbolSize":961,"symbolStrokeWidth":2,"labelFontSize":21,"labelFont":"Liberation Sans","labelColor":"black","labelLimit":400,"labelExpr":"'Sample ' + datum.label + '\u2800\u00a0\u00a0\u2800'","padding":0,"symbolOffset":6.7,"labelOffset":7.3,"clipHeight":29.4,"rowPadding":0,"strokeColor":"#222222","fillColor":"white"}}
 }
},
{
 "mark":{"type":"rule","strokeWidth":1.3,"opacity":0.6,"clip":true},
 "encoding":{
  "x":{"field":"e","type":"quantitative","axis":null},
  "y":{"field":"l","type":"quantitative","axis":null},
  "y2":{"field":"h"},
  "color":{"field":"s","type":"nominal","legend":null}
 }
},
{
 "mark":{"type":"tick","orient":"horizontal","size":4,"thickness":1.3,"opacity":0.75,"clip":true},
 "encoding":{
  "x":{"field":"e","type":"quantitative","axis":null},
  "y":{"field":"v","type":"quantitative","axis":null},
  "color":{"field":"s","type":"nominal","legend":null}
 }
},
{
 "mark":{"type":"point","opacity":0},
 "encoding":{
  "x":{"field":"e","type":"quantitative","axis":{"orient":"bottom","offset":0,"values":[1.1,1.2,1.3,1.4,1.6,1.7,1.8,1.9,2.1,2.2,2.3,2.4,2.6,2.7,2.8,2.9,3.1,3.2,3.3,3.4,3.6,3.7,3.8,3.9,4.1,4.2,4.3,4.4,4.6,4.7,4.8,4.9],"tickSize":-6,"labels":false,"domain":false,"title":null}},
  "y":{"field":"v","type":"quantitative","axis":{"orient":"left","offset":0,"values":[0.005,0.006,0.007,0.008,0.009,0.02,0.03,0.04,0.05,0.06,0.07,0.08,0.09,0.2,0.3,0.4,0.5,0.6,0.7,0.8,0.9,2,3,4,5,6,7,8,9,20,30,40,50,60,70,80,90],"tickSize":-9,"labels":false,"domain":false,"title":null}}
 }
}
]
}
